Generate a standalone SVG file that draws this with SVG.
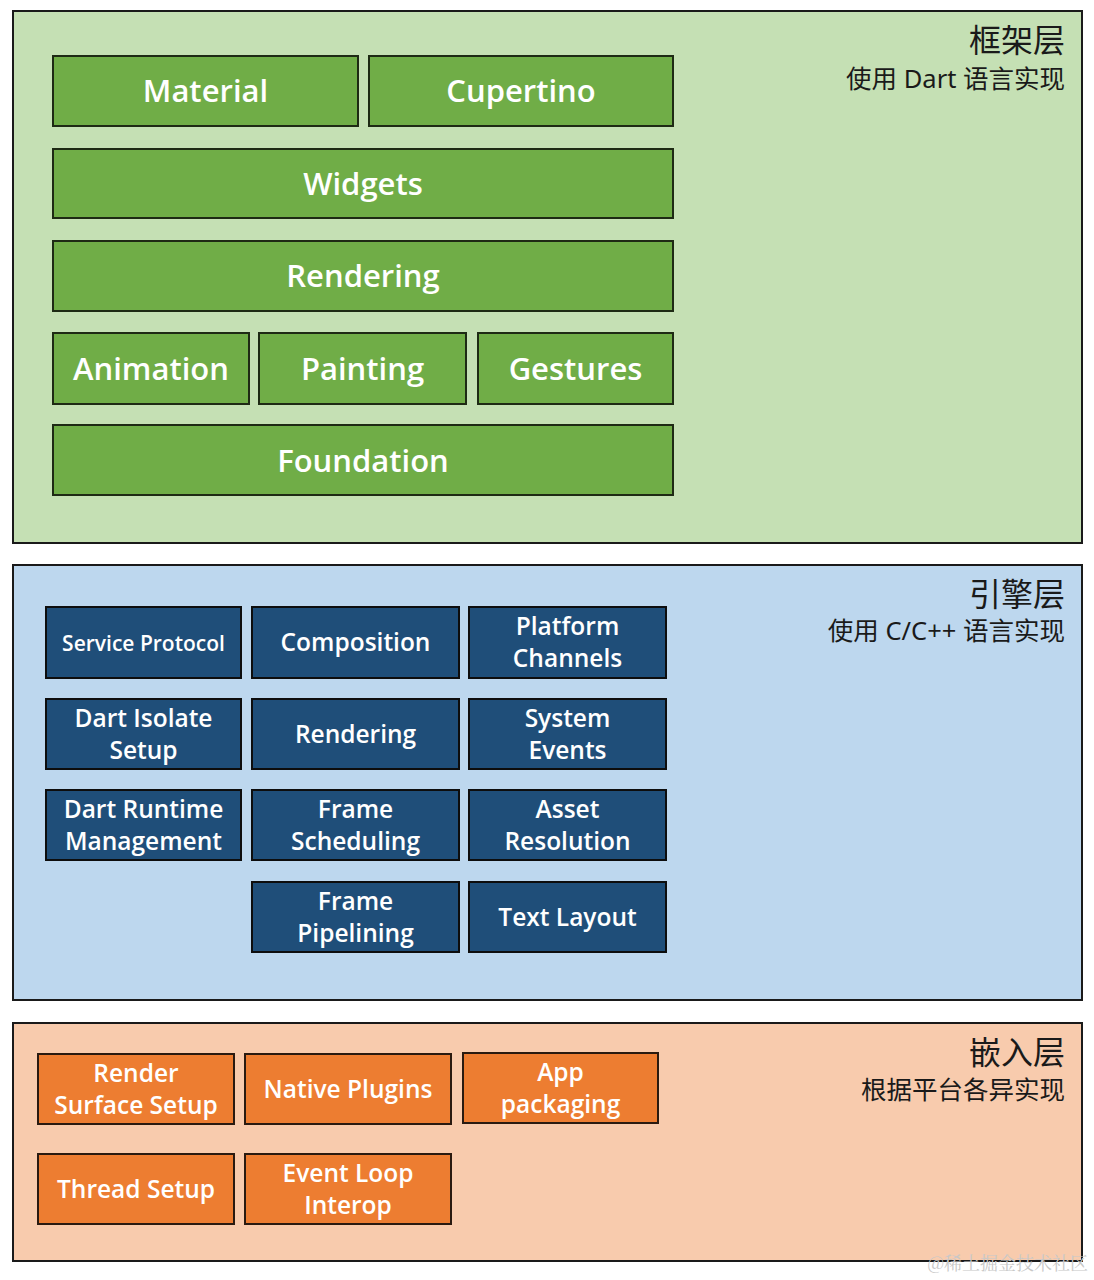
<svg xmlns="http://www.w3.org/2000/svg" width="1094" height="1280" viewBox="0 0 1094 1280">
<style>
.layer{stroke:#1a1a1a;stroke-width:2}
.g{fill:#70ad47;stroke:#1e2a14;stroke-width:2}
.b{fill:#1f4e79;stroke:#0d0d0d;stroke-width:2}
.o{fill:#ed7d31;stroke:#2a1a10;stroke-width:2}
.t{fill:#fff;font-family:"Open Sans","Noto Sans",sans-serif;font-weight:600;text-anchor:middle}
.big{font-size:31px}
.mid{font-size:24.5px}
.title{fill:#1a1a1a;font-family:"Noto Sans CJK SC",sans-serif;text-anchor:end;font-size:32px}
.sub{fill:#1a1a1a;font-family:"Noto Sans","Noto Sans CJK SC",sans-serif;text-anchor:end;font-size:25.5px}
</style>
<rect width="1094" height="1280" fill="#fff"/>
<g id="framework">
<rect class="layer" x="13" y="11" width="1069" height="532" fill="#c5e0b4"/>
<text class="title" x="1065" y="52">框架层</text>
<text class="sub" x="1065" y="88">使用 Dart 语言实现</text>
</g>
<g id="material"><rect class="g" x="53" y="56" width="305" height="70"/><text class="t big" x="205.5" y="102">Material</text></g>
<g id="cupertino"><rect class="g" x="369" y="56" width="304" height="70"/><text class="t big" x="521" y="102">Cupertino</text></g>
<g id="widgets"><rect class="g" x="53" y="149" width="620" height="69"/><text class="t big" x="363" y="195">Widgets</text></g>
<g id="rendering-fw"><rect class="g" x="53" y="241" width="620" height="70"/><text class="t big" x="363" y="287">Rendering</text></g>
<g id="animation"><rect class="g" x="53" y="333" width="196" height="71"/><text class="t big" x="151" y="380">Animation</text></g>
<g id="painting"><rect class="g" x="259" y="333" width="207" height="71"/><text class="t big" x="362.5" y="380">Painting</text></g>
<g id="gestures"><rect class="g" x="478" y="333" width="195" height="71"/><text class="t big" x="575.5" y="380">Gestures</text></g>
<g id="foundation"><rect class="g" x="53" y="425" width="620" height="70"/><text class="t big" x="363" y="472">Foundation</text></g>

<g id="engine">
<rect class="layer" x="13" y="565" width="1069" height="435" fill="#bdd7ee"/>
<text class="title" x="1065" y="606">引擎层</text>
<text class="sub" x="1065" y="640">使用 C/C++ 语言实现</text>
</g>
<g id="service-protocol"><rect class="b" x="46" y="607" width="195" height="71"/><text class="t" style="font-size:21px" x="143.5" y="651">Service Protocol</text></g>
<g id="composition"><rect class="b" x="252" y="607" width="207" height="71"/><text class="t mid" x="355.5" y="651">Composition</text></g>
<g id="platform-channels"><rect class="b" x="469" y="607" width="197" height="71"/><text class="t mid" x="567.5" y="635">Platform</text><text class="t mid" x="567.5" y="667">Channels</text></g>
<g id="dart-isolate"><rect class="b" x="46" y="699" width="195" height="70"/><text class="t mid" x="143.5" y="727">Dart Isolate</text><text class="t mid" x="143.5" y="759">Setup</text></g>
<g id="rendering-en"><rect class="b" x="252" y="699" width="207" height="70"/><text class="t mid" x="355.5" y="743">Rendering</text></g>
<g id="system-events"><rect class="b" x="469" y="699" width="197" height="70"/><text class="t mid" x="567.5" y="727">System</text><text class="t mid" x="567.5" y="759">Events</text></g>
<g id="dart-runtime"><rect class="b" x="46" y="790" width="195" height="70"/><text class="t mid" x="143.5" y="818">Dart Runtime</text><text class="t mid" x="143.5" y="850">Management</text></g>
<g id="frame-scheduling"><rect class="b" x="252" y="790" width="207" height="70"/><text class="t mid" x="355.5" y="818">Frame</text><text class="t mid" x="355.5" y="850">Scheduling</text></g>
<g id="asset-resolution"><rect class="b" x="469" y="790" width="197" height="70"/><text class="t mid" x="567.5" y="818">Asset</text><text class="t mid" x="567.5" y="850">Resolution</text></g>
<g id="frame-pipelining"><rect class="b" x="252" y="882" width="207" height="70"/><text class="t mid" x="355.5" y="910">Frame</text><text class="t mid" x="355.5" y="942">Pipelining</text></g>
<g id="text-layout"><rect class="b" x="469" y="882" width="197" height="70"/><text class="t mid" x="567.5" y="926">Text Layout</text></g>

<g id="embedder">
<rect class="layer" x="13" y="1023" width="1069" height="238" fill="#f8cbad"/>
<text class="title" x="1065" y="1064">嵌入层</text>
<text class="sub" x="1065" y="1099">根据平台各异实现</text>
</g>
<g id="render-surface"><rect class="o" x="38" y="1054" width="196" height="70"/><text class="t mid" x="136" y="1082">Render</text><text class="t mid" x="136" y="1114">Surface Setup</text></g>
<g id="native-plugins"><rect class="o" x="245" y="1054" width="206" height="70"/><text class="t mid" x="348" y="1098">Native Plugins</text></g>
<g id="app-packaging"><rect class="o" x="463" y="1053" width="195" height="70"/><text class="t mid" x="560.5" y="1081">App</text><text class="t mid" x="560.5" y="1113">packaging</text></g>
<g id="thread-setup"><rect class="o" x="38" y="1154" width="196" height="70"/><text class="t mid" x="136" y="1198">Thread Setup</text></g>
<g id="event-loop"><rect class="o" x="245" y="1154" width="206" height="70"/><text class="t mid" x="348" y="1182">Event Loop</text><text class="t mid" x="348" y="1214">Interop</text></g>
<g id="connectors"/>
<text x="1088" y="1270" text-anchor="end" font-family="'Noto Serif CJK SC','Noto Sans CJK SC',serif" font-size="18" fill="#c8c8c8">@稀土掘金技术社区</text>
</svg>
